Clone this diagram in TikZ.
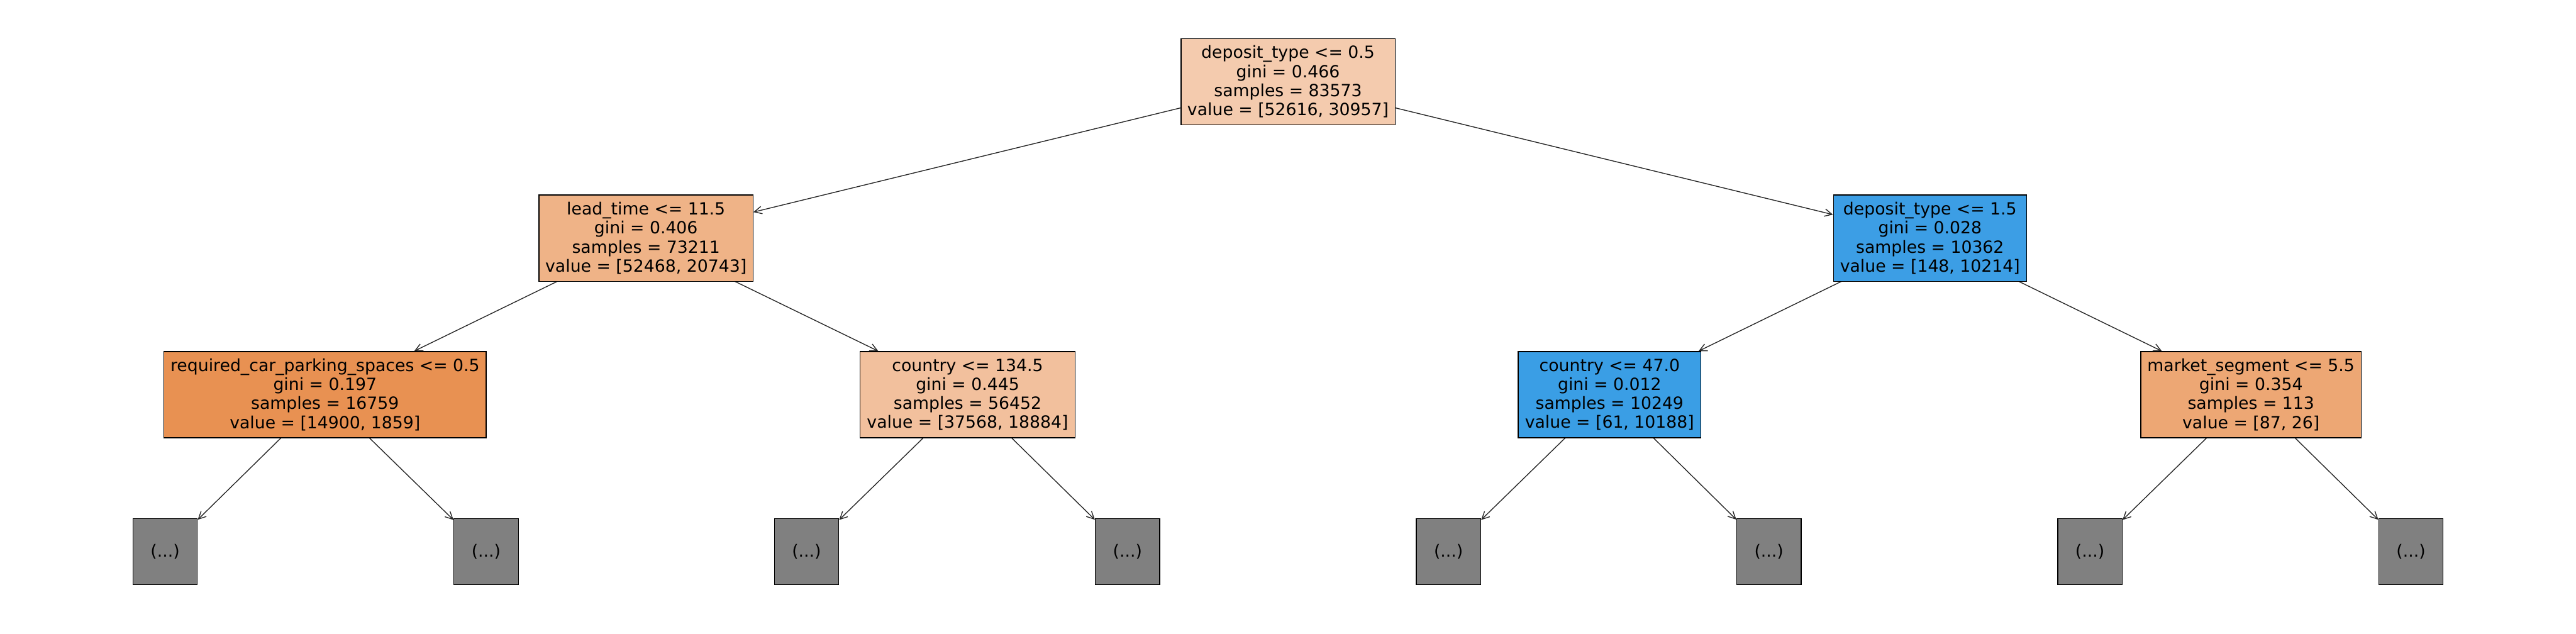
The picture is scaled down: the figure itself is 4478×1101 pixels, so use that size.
\documentclass[tikz,border=0pt]{standalone}
\usepackage{fontspec}
\setmainfont{DejaVu Sans}
\usetikzlibrary{arrows.meta}
\pgfdeclarelayer{background}
\pgfsetlayers{background,main}
\definecolor{cRoot}{RGB}{244,203,174}
\definecolor{cLead}{RGB}{239,179,135}
\definecolor{cReq}{RGB}{232,145,82}
\definecolor{cCtryA}{RGB}{242,192,157}
\definecolor{cDepB}{RGB}{60,158,229}
\definecolor{cCtryB}{RGB}{58,158,229}
\definecolor{cMkt}{RGB}{237,167,116}
\definecolor{cLeaf}{RGB}{128,128,128}
\tikzset{
  treebox/.style={draw=black, line width=0.7pt, inner sep=0pt, align=center,
    minimum height=75pt, font=\fontsize{14.6}{16.5}\selectfont},
  leafbox/.style={draw=black, line width=0.7pt, fill=cLeaf, inner sep=0pt,
    minimum width=56pt, minimum height=57.5pt, font=\fontsize{14.6}{16.5}\selectfont},
  edge/.style={draw=black!85, line width=0.75pt, -{Straight Barb[length=6.5pt,width=6.5pt]}}
}
\begin{document}
\begin{tikzpicture}[x=0.5pt,y=-0.5pt]
\useasboundingbox (0,0) rectangle (4478,1101);
% level 0
\node[treebox, fill=cRoot, minimum width=186pt] (root) at (2239,142)
  {deposit\_type <= 0.5\\gini = 0.466\\samples = 83573\\value = [52616, 30957]};
% level 1
\node[treebox, fill=cLead, minimum width=186pt] (lead) at (1123,414)
  {lead\_time <= 11.5\\gini = 0.406\\samples = 73211\\value = [52468, 20743]};
\node[treebox, fill=cDepB, minimum width=168pt] (depb) at (3355,414)
  {deposit\_type <= 1.5\\gini = 0.028\\samples = 10362\\value = [148, 10214]};
% level 2
\node[treebox, fill=cReq, minimum width=280pt] (req) at (565,686)
  {required\_car\_parking\_spaces <= 0.5\\gini = 0.197\\samples = 16759\\value = [14900, 1859]};
\node[treebox, fill=cCtryA, minimum width=187pt] (ctrya) at (1682,686)
  {country <= 134.5\\gini = 0.445\\samples = 56452\\value = [37568, 18884]};
\node[treebox, fill=cCtryB, minimum width=159pt] (ctryb) at (2798,686)
  {country <= 47.0\\gini = 0.012\\samples = 10249\\value = [61, 10188]};
\node[treebox, fill=cMkt, minimum width=191.5pt] (mkt) at (3913,686)
  {market\_segment <= 5.5\\gini = 0.354\\samples = 113\\value = [87, 26]};
% leaves
\node[leafbox] (l1) at (287,959) {(...)};
\node[leafbox] (l2) at (845,959) {(...)};
\node[leafbox] (l3) at (1402,959) {(...)};
\node[leafbox] (l4) at (1960,959) {(...)};
\node[leafbox] (l5) at (2518,959) {(...)};
\node[leafbox] (l6) at (3075,959) {(...)};
\node[leafbox] (l7) at (3633,959) {(...)};
\node[leafbox] (l8) at (4191,959) {(...)};
\begin{pgfonlayer}{background}
\draw[edge] (root.center) -- (lead);
\draw[edge] (root.center) -- (depb);
\draw[edge] (lead.center) -- (req);
\draw[edge] (lead.center) -- (ctrya);
\draw[edge] (depb.center) -- (ctryb);
\draw[edge] (depb.center) -- (mkt);
\draw[edge] (req.center) -- (l1);
\draw[edge] (req.center) -- (l2);
\draw[edge] (ctrya.center) -- (l3);
\draw[edge] (ctrya.center) -- (l4);
\draw[edge] (ctryb.center) -- (l5);
\draw[edge] (ctryb.center) -- (l6);
\draw[edge] (mkt.center) -- (l7);
\draw[edge] (mkt.center) -- (l8);
\end{pgfonlayer}
\end{tikzpicture}
\end{document}
